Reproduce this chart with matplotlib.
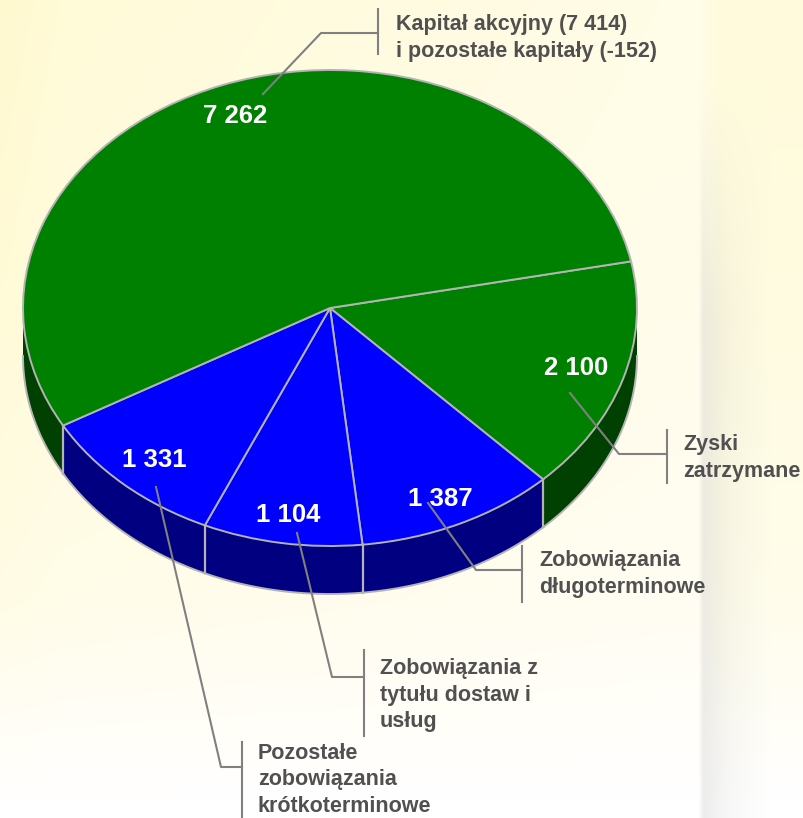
import numpy as np
import matplotlib
matplotlib.use('Agg')
import matplotlib.pyplot as plt

plt.rcParams['font.family'] = ['Liberation Sans', 'DejaVu Sans']

# slices clockwise from the right hand side
values = [2100, 1387, 1104, 1331, 7262]
value_labels = ['2 100', '1 387', '1 104', '1 331', '7 262']
categories = ['Zyski\nzatrzymane',
              'Zobowiązania\ndługoterminowe',
              'Zobowiązania z\ntytułu dostaw i\nusług',
              'Pozostałe\nzobowiązania\nkrótkoterminowe',
              'Kapitał akcyjny (7 414)\ni pozostałe kapitały (-152)']
top_colors = ['#008000', '#0000ff', '#0000ff', '#0000ff', '#008000']
side_colors = ['#004000', '#000080', '#000080', '#000080', '#004000']

W, H = 804, 818
CX, CY, RX, RY, DEPTH = 330, 308, 307, 238, 48
START = 11.3
EDGE = '#b4b4b4'
LEADER = '#808080'

# label anchors and leader lines, in pixels
value_pos = [(576, 368), (440, 499), (288, 515), (154, 460), (235, 116)]
text_pos = [(683, 458), (539, 574), (380, 695), (258, 780), (396, 38)]
leaders = [[(570, 393), (619, 454), (667, 454)],
           [(428, 503), (476, 570), (522, 570)],
           [(297, 533), (332, 677), (364, 677)],
           [(156, 487), (221, 767), (242, 767)],
           [(263, 94), (321, 33), (378, 33)]]
bars = [(667, 430, 483), (522, 546, 602), (364, 650, 736), (242, 742, 818), (378, 9, 54)]

fig = plt.figure(figsize=(W / 100, H / 100), dpi=100)

# background: cream fading to white, with the pale band on the right
bg = fig.add_axes([0, 0, 1, 1], zorder=0)
xx = np.arange(W)
yy = np.arange(H)
fade = np.interp(yy, [0, 300, 600, 800], [1.0, 0.85, 0.55, 0.0])
tint = np.interp(xx, [0, 60, 250, 660, 700, 720, 804], [47, 40, 34, 24, 24, 36, 36])
deficit = np.outer(fade, tint)
grow = np.interp(yy, [80, 320], [0, 1])
band = np.outer(grow, np.interp(xx, [698, 703, 730, 770], [0, 18, 7, 0]))
blue_band = band * (1 - 0.4 * fade[:, None])
img = np.dstack([255 - band, 255 - 0.12 * deficit - band, 255 - deficit - blue_band]) / 255
bg.imshow(np.clip(img, 0, 1), aspect='auto', extent=(0, W, H, 0))
bg.axis('off')

# pie in radius units, stretched afterwards into the ellipse
ax = fig.add_axes([0, 0, 1, 1], zorder=1)
wedges, _ = ax.pie(values, startangle=START, counterclock=False, colors=top_colors, radius=1,
                   wedgeprops={'edgecolor': EDGE, 'linewidth': 1.4})
for w in wedges:
    w.set_zorder(3)
ax.set_aspect('auto')
ax.set_xlim((0 - CX) / RX, (W - CX) / RX)
ax.set_ylim((CY - H) / RY, CY / RY)
ax.patch.set_alpha(0)

# side wall of the visible front half
depth = DEPTH / RY
angles = START - np.cumsum([0] + values) / sum(values) * 360
for i in range(len(values)):
    a0 = min(angles[i], 0)
    a1 = max(angles[i + 1], -180)
    if a0 <= a1:
        continue
    t = np.radians(np.linspace(a0, a1, 80))
    x = np.cos(t)
    y = np.sin(t)
    ax.fill(np.r_[x, x[::-1]], np.r_[y, y[::-1] - depth], color=side_colors[i], lw=0, zorder=1)
    ax.plot(x, y - depth, color=EDGE, lw=1.4, zorder=2)
    if a1 > -180:
        ax.plot([x[-1], x[-1]], [y[-1], y[-1] - depth], color=EDGE, lw=1.6, zorder=2)

# labels and leaders in pixels
over = fig.add_axes([0, 0, 1, 1], zorder=2)
over.set_xlim(0, W)
over.set_ylim(H, 0)
over.axis('off')
for line, bar in zip(leaders, bars):
    over.plot(*zip(*line), color=LEADER, lw=1.5, solid_joinstyle='round')
    over.plot([bar[0], bar[0]], [bar[1], bar[2]], color=LEADER, lw=1.5)
for lab, pos in zip(value_labels, value_pos):
    over.text(pos[0], pos[1], lab, color='white', fontsize=18.5, fontweight='bold',
              ha='center', va='center')
for lab, pos in zip(categories, text_pos):
    over.text(pos[0], pos[1], lab, color='#505050', fontsize=15.5, fontweight='bold',
              ha='left', va='center', linespacing=1.36)

fig.savefig('out.png', dpi=100)
